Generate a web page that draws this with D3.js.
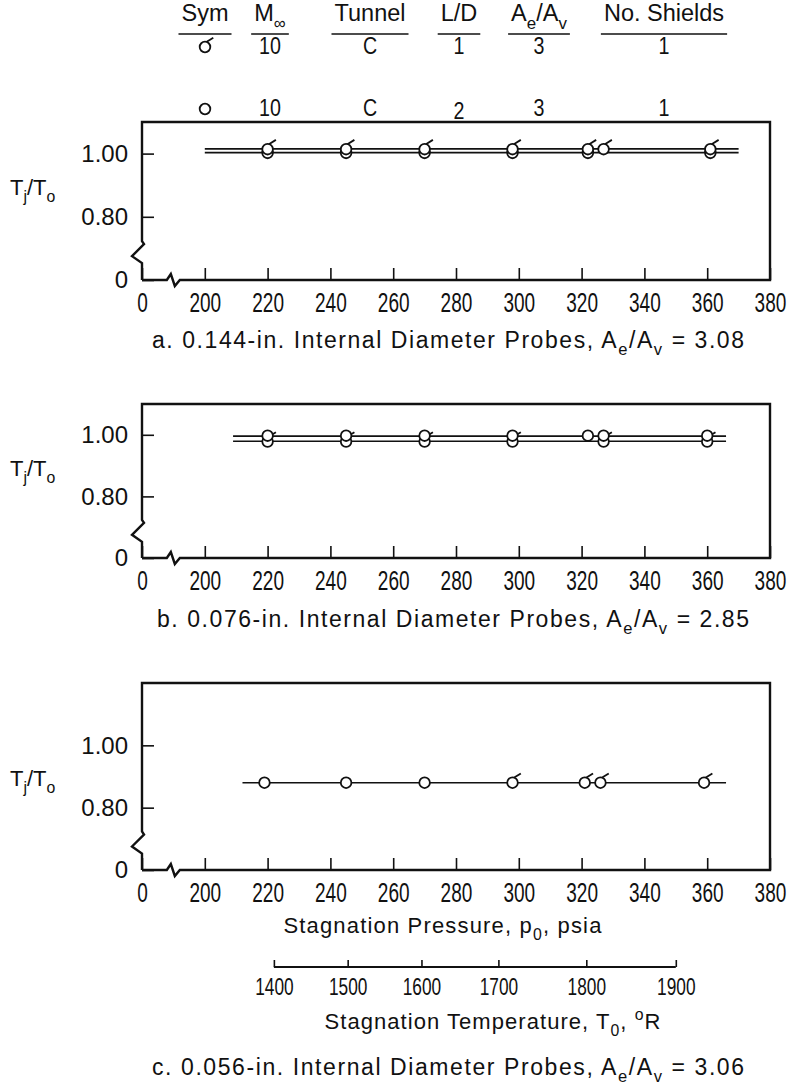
<!DOCTYPE html>
<html>
<head>
<meta charset="utf-8">
<script src="https://cdn.jsdelivr.net/npm/d3@7"></script>
<style>
  body { margin: 0; background: #fff; }
  svg text { font-family: "Liberation Sans", Arial, sans-serif; fill: #111; }
</style>
</head>
<body>
<svg id="chart" width="787" height="1086"></svg>
<script>
// ---- legend table ----
const legendHeaders = ["Sym", "M∞", "Tunnel", "L/D", "Ae/Av", "No. Shields"];
const legendSymbols = ["flag", "plain"];
const legendMach = ["10", "10"];
const legendTunnel = ["C", "C"];
const legendLD = ["1", "2"];
const legendArea = ["3", "3"];
const legendShields = ["1", "1"];

// ---- axis ticks ----
const pressureTicks = [180, 200, 220, 240, 260, 280, 300, 320, 340, 360, 380]; // 180 sits at the axis break, labelled "0"
const ratioTicks = [0.6, 0.8, 1.0];                                             // 0.6 sits at the axis break, labelled "0"
const tempTicks = [1400, 1500, 1600, 1700, 1800, 1900];
const tempAtPressure = [222, 245.5, 269, 293.5, 321.5, 350];                    // p0 (psia) matching each T0 tick

// ---- panel a: 0.144-in. probes ----
const aFlagP = [220, 245, 270, 298, 322, 327, 361];
const aFlagV = [1.014, 1.014, 1.014, 1.014, 1.014, 1.014, 1.014];
const aPlainP = [220, 245, 270, 298, 322, 361];
const aPlainV = [1.002, 1.002, 1.002, 1.002, 1.002, 1.002];
const aFairP = [200, 370];
const aFairFlag = [1.015, 1.015];
const aFairPlain = [1.003, 1.003];

// ---- panel b: 0.076-in. probes ----
const bFlagP = [220, 245, 270, 298, 327, 360];
const bFlagV = [0.978, 0.978, 0.978, 0.978, 0.978, 0.978];
const bPlainP = [220, 245, 270, 298, 322, 327, 360];
const bPlainV = [0.997, 0.997, 0.997, 0.997, 0.997, 0.997, 0.997];
const bFairP = [209, 366];
const bFairFlag = [0.979, 0.979];
const bFairPlain = [0.996, 0.996];

// ---- panel c: 0.056-in. probes ----
const cFlagP = [298, 321, 326, 359];
const cFlagV = [0.88, 0.88, 0.88, 0.88];
const cPlainP = [219, 245, 270];
const cPlainV = [0.88, 0.88, 0.88];
const cFairP = [212, 366];
const cFairV = [0.88, 0.88];

const FONT = '"Liberation Sans", Arial, sans-serif';
const INK = "#111";
const svg = d3.select("#chart");

const x = d3.scaleLinear().domain([180, 380]).range([142, 770]);
const xBreak = 189.5;
const yBreak = 0.685;

// text with sub/superscript parts
function rich(sel, parts, size) {
  let shift = 0;
  parts.forEach(p => {
    const want = p.sub ? size * 0.32 : p.sup ? -size * 0.42 : 0;
    const ts = sel.append("tspan").text(p.t).attr("dy", want - shift);
    if (p.sub || p.sup) ts.attr("font-size", size * 0.72);
    shift = want;
  });
  return sel;
}

function addText(parent, px, py, parts, size, anchor, sx) {
  const t = parent.append("text")
    .attr("transform", `translate(${px},${py}) scale(${sx || 1},1)`)
    .attr("font-size", size)
    .attr("text-anchor", anchor || "start")
    .attr("fill", INK)
    .style("white-space", "pre");
  rich(t, parts, size);
  return t;
}

// widen the lettering so a line spans the given width
function spreadTo(t, width) {
  const node = t.node();
  const w = node.getComputedTextLength();
  const n = node.getNumberOfChars();
  if (n > 1) t.attr("letter-spacing", (width - w) / (n - 1));
  return t;
}

function drawMarker(g, cx, cy, kind) {
  const r = 5.3;
  const m = g.append("g").attr("transform", `translate(${cx},${cy})`);
  m.append("circle").attr("r", r).attr("fill", "#fff").attr("stroke", INK).attr("stroke-width", 1.8);
  if (kind === "flag") {
    m.append("path").attr("d", `M${r * 0.25},${-r + 0.3} L${r + 3},${-r - 4}`)
      .attr("stroke", INK).attr("stroke-width", 1.8).attr("fill", "none");
  }
}

// ---- legend ----
const colX = [205, 270, 370, 459, 539, 664];
const headerParts = [
  [{ t: "Sym" }],
  [{ t: "M" }, { t: "∞", sub: true }],
  [{ t: "Tunnel" }],
  [{ t: "L/D" }],
  [{ t: "A" }, { t: "e", sub: true }, { t: "/A" }, { t: "v", sub: true }],
  [{ t: "No. Shields" }]
];
const legend = svg.append("g");
headerParts.forEach((parts, i) => {
  const sx = 0.98;
  const t = addText(legend, colX[i], 21, parts, 24, "middle", sx);
  const half = t.node().getComputedTextLength() * sx / 2 + 3;
  legend.append("line")
    .attr("x1", colX[i] - half).attr("x2", colX[i] + half)
    .attr("y1", 34).attr("y2", 34)
    .attr("stroke", INK).attr("stroke-width", 1.6);
});
const rowY = [54, 116];
legendSymbols.forEach((s, r) => {
  drawMarker(legend, colX[0], rowY[r] - 7, s);
  const cols = [legendMach[r], legendTunnel[r], legendLD[r], legendArea[r], legendShields[r]];
  cols.forEach((v, i) => {
    const dy = (i === 2 && r === 1) ? 3 : 0;
    addText(legend, colX[i + 1], rowY[r] + dy, [{ t: v }], 24, "middle", 0.82);
  });
});

// ---- panels ----
const panels = [
  {
    top: 122, bottom: 280, yMax: 1.1, captionY: 348, captionX: 152, letter: "a.", dia: "0.144", ratio: "3.08",
    series: [
      { p: aPlainP, v: aPlainV, kind: "plain" },
      { p: aFlagP, v: aFlagV, kind: "flag" }
    ],
    fair: [{ p: aFairP, v: aFairFlag }, { p: aFairP, v: aFairPlain }]
  },
  {
    top: 404, bottom: 558, yMax: 1.1, captionY: 627, captionX: 157, letter: "b.", dia: "0.076", ratio: "2.85",
    series: [
      { p: bFlagP, v: bFlagV, kind: "flag" },
      { p: bPlainP, v: bPlainV, kind: "plain" }
    ],
    fair: [{ p: bFairP, v: bFairFlag }, { p: bFairP, v: bFairPlain }]
  },
  {
    top: 683, bottom: 870, yMax: 1.2, captionY: 1075, captionX: 152, letter: "c.", dia: "0.056", ratio: "3.06",
    series: [
      { p: cPlainP, v: cPlainV, kind: "plain" },
      { p: cFlagP, v: cFlagV, kind: "flag" }
    ],
    fair: [{ p: cFairP, v: cFairV }]
  }
];

panels.forEach(pn => {
  const y = d3.scaleLinear().domain([0.6, pn.yMax]).range([pn.bottom, pn.top]);
  const g = svg.append("g");
  const x0 = x(180), x1 = x(380), xb = x(xBreak), yb = y(yBreak);

  // x axis ticks and labels (ticks point inward)
  g.append("g").attr("transform", `translate(0,${pn.bottom})`)
    .call(d3.axisBottom(x).tickValues(pressureTicks).tickSizeInner(-12).tickSizeOuter(0).tickPadding(12)
      .tickFormat(d => d === 180 ? "0" : String(d)))
    .call(a => a.select(".domain").remove())
    .call(a => a.selectAll(".tick line").attr("stroke", INK).attr("stroke-width", 1.6))
    .call(a => a.selectAll(".tick text").attr("font-family", FONT).attr("font-size", 28)
      .attr("fill", INK).attr("transform", "scale(0.68,1)"));

  // y axis ticks and labels
  g.append("g").attr("transform", `translate(${x0},0)`)
    .call(d3.axisLeft(y).tickValues(ratioTicks).tickSizeInner(-12).tickSizeOuter(0).tickPadding(14)
      .tickFormat(d => d === 0.6 ? "0" : d3.format(".2f")(d)))
    .call(a => a.select(".domain").remove())
    .call(a => a.selectAll(".tick line").attr("stroke", INK).attr("stroke-width", 1.6))
    .call(a => a.selectAll(".tick text").attr("font-family", FONT).attr("font-size", 24).attr("fill", INK));

  // frame with broken axes
  const frame = [
    `M${x0},${pn.bottom}`,
    `L${x0},${yb + 10}`, `L${x0 - 10},${yb + 3}`, `L${x0 + 2},${yb - 9}`, `L${x0},${yb - 12}`,
    `L${x0},${pn.top}`, `L${x1},${pn.top}`, `L${x1},${pn.bottom}`,
    `L${xb + 8},${pn.bottom}`, `L${xb + 3},${pn.bottom + 6}`, `L${xb - 1},${pn.bottom - 6}`, `L${xb - 5},${pn.bottom}`,
    `L${x0},${pn.bottom}`
  ].join(" ");
  g.append("path").attr("d", frame).attr("fill", "none").attr("stroke", INK)
    .attr("stroke-width", 2.4).attr("stroke-linejoin", "miter");

  // faired lines
  const line = d3.line().x(d => x(d[0])).y(d => y(d[1]));
  pn.fair.forEach(f => {
    g.append("path").attr("d", line(f.p.map((p, i) => [p, f.v[i]])))
      .attr("fill", "none").attr("stroke", INK).attr("stroke-width", 1.7);
  });

  // data symbols
  pn.series.forEach(s => {
    s.p.forEach((p, i) => drawMarker(g, x(p), y(s.v[i]), s.kind));
  });

  // y axis title
  addText(g, 10, y(1.0) + 41, [{ t: "T" }, { t: "j", sub: true }, { t: "/T" }, { t: "o", sub: true }], 22, "start", 1);

  // caption
  const cap = addText(g, pn.captionX, pn.captionY, [
    { t: `${pn.letter} 0.${pn.dia.slice(2)}-in. Internal Diameter Probes, A` },
    { t: "e", sub: true }, { t: "/A" }, { t: "v", sub: true }, { t: ` = ${pn.ratio}` }
  ], 23, "start", 1);
  spreadTo(cap, 592);
});

// ---- stagnation temperature scale under the last panel ----
const tScale = d3.scaleLinear().domain(tempTicks).range(tempAtPressure.map(p => x(p)));
const tAxisY = 967;
svg.append("g").attr("transform", `translate(0,${tAxisY})`)
  .call(d3.axisBottom(tScale).tickValues(tempTicks).tickSizeInner(-7).tickSizeOuter(0).tickPadding(11)
    .tickFormat(d3.format("d")))
  .call(a => a.select(".domain").attr("stroke", INK).attr("stroke-width", 1.8)
    .attr("d", `M${tScale(1400)},0H${tScale(1900)}`))
  .call(a => a.selectAll(".tick line").attr("stroke", INK).attr("stroke-width", 1.6))
  .call(a => a.selectAll(".tick text").attr("font-family", FONT).attr("font-size", 24)
    .attr("fill", INK).attr("transform", "scale(0.72,1)"));

const pTitle = addText(svg, 443, 933, [{ t: "Stagnation Pressure, p" }, { t: "0", sub: true }, { t: ", psia" }], 22, "middle", 1);
spreadTo(pTitle, 318);
const tTitle = addText(svg, 493, 1029, [{ t: "Stagnation Temperature, T" }, { t: "0", sub: true }, { t: ", " }, { t: "o", sup: true }, { t: "R" }], 22, "middle", 1);
spreadTo(tTitle, 336);
</script>
</body>
</html>
